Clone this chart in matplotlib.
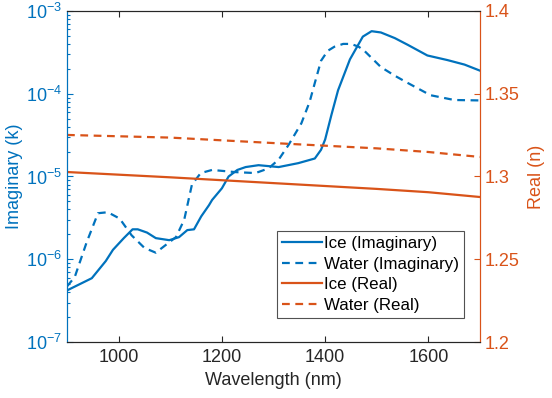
import matplotlib
matplotlib.use('Agg')
import matplotlib.pyplot as plt

BLUE = '#0072BD'
ORANGE = '#D95319'
DARK = '#262626'

plt.rcParams['font.family'] = ['Liberation Sans', 'DejaVu Sans']
plt.rcParams['mathtext.fontset'] = 'custom'
plt.rcParams['mathtext.rm'] = 'Liberation Sans'
plt.rcParams['mathtext.it'] = 'Liberation Sans'

# imaginary part (k)
ice_k_wl = [900, 948, 975, 989, 1010, 1027, 1037, 1055, 1072, 1098, 1117, 1133, 1146,
            1160, 1175, 1181, 1200, 1213, 1230, 1246, 1271, 1310, 1348, 1380, 1392,
            1400, 1412, 1425, 1448, 1473, 1490, 1508, 1535, 1560, 1598, 1637, 1670, 1700]
ice_k = [4.2e-7, 5.9e-7, 9.5e-7, 1.3e-6, 1.8e-6, 2.3e-6, 2.3e-6, 2.1e-6, 1.8e-6, 1.7e-6,
         1.85e-6, 2.25e-6, 2.3e-6, 3.3e-6, 4.5e-6, 5.2e-6, 7.2e-6, 1.0e-5, 1.2e-5, 1.3e-5,
         1.37e-5, 1.3e-5, 1.45e-5, 1.65e-5, 2.1e-5, 2.8e-5, 5.5e-5, 1.1e-4, 2.6e-4, 4.9e-4,
         5.7e-4, 5.5e-4, 4.7e-4, 3.9e-4, 2.9e-4, 2.55e-4, 2.25e-4, 1.9e-4]

water_k_wl = [900, 915, 938, 960, 979, 1002, 1025, 1050, 1072, 1092, 1111, 1127, 1142,
              1159, 1181, 1226, 1265, 1290, 1310, 1329, 1354, 1370, 1380, 1392, 1405,
              1418, 1435, 1450, 1465, 1476, 1508, 1535, 1560, 1604, 1650, 1700]
water_k = [4.7e-7, 6.1e-7, 1.6e-6, 3.6e-6, 3.7e-6, 3.1e-6, 1.95e-6, 1.37e-6, 1.2e-6, 1.5e-6,
           1.85e-6, 3.0e-6, 8.0e-6, 1.1e-5, 1.2e-5, 1.13e-5, 1.1e-5, 1.25e-5, 1.6e-5, 2.4e-5,
           4.4e-5, 8.0e-5, 1.35e-4, 2.5e-4, 3.3e-4, 3.7e-4, 4.0e-4, 4.0e-4, 3.7e-4, 3.3e-4,
           2.1e-4, 1.65e-4, 1.35e-4, 9.6e-5, 8.4e-5, 8.3e-5]

# real part (n)
real_wl = [900, 1100, 1300, 1500, 1600, 1700]
ice_n = [1.3027, 1.2995, 1.2960, 1.2925, 1.2905, 1.2876]
water_n = [1.3251, 1.3235, 1.3202, 1.3170, 1.3148, 1.3118]

fig = plt.figure(figsize=(5.52, 3.98), dpi=100)
ax1 = fig.add_axes([0.1214, 0.1407, 0.7482, 0.8317])
ax2 = ax1.twinx()

l1, = ax1.plot(ice_k_wl, ice_k, color=BLUE, lw=1.6, label='Ice (Imaginary)')
l2, = ax1.plot(water_k_wl, water_k, color=BLUE, lw=1.6, ls=(0, (3.5, 2.5)),
               label='Water (Imaginary)')
l3, = ax2.plot(real_wl, ice_n, color=ORANGE, lw=1.6, label='Ice (Real)')
l4, = ax2.plot(real_wl, water_n, color=ORANGE, lw=1.6, ls=(0, (3.5, 2.5)),
               label='Water (Real)')

ax1.set_yscale('log')
ax1.set_ylim(1e-7, 1e-3)
ax1.set_xlim(900, 1700)
ax2.set_ylim(1.2, 1.4)
ax2.set_yticks([1.2, 1.25, 1.3, 1.35, 1.4])
ax2.set_yticklabels(['1.2', '1.25', '1.3', '1.35', '1.4'])
ax1.set_xticks([1000, 1200, 1400, 1600])

fs = 13
ax1.tick_params(axis='x', direction='in', top=True, length=4, width=0.8,
                colors=DARK, labelsize=fs, pad=5)
ax1.tick_params(axis='y', which='both', direction='in', colors=BLUE, labelsize=fs, width=0.8)
ax1.tick_params(axis='y', which='major', length=4)
ax1.tick_params(axis='y', which='minor', length=2)
ax2.tick_params(axis='y', direction='in', colors=ORANGE, labelsize=fs, length=4, width=0.8)

ax1.set_xlabel('Wavelength (nm)', fontsize=fs, color=DARK)
ax1.set_ylabel('Imaginary (k)', fontsize=fs, color=BLUE, labelpad=2)
ax2.set_ylabel('Real (n)', fontsize=fs, color=ORANGE, labelpad=6)

for ax in (ax1, ax2):
    ax.spines['top'].set_color(DARK)
    ax.spines['bottom'].set_color(DARK)
    ax.spines['left'].set_color(BLUE)
    ax.spines['right'].set_color(ORANGE)
    for s in ax.spines.values():
        s.set_linewidth(0.8)

leg = ax2.legend(handles=[l1, l2, l3, l4], loc='lower right',
                 bbox_to_anchor=(0.961, 0.0725), fontsize=12.2, frameon=True,
                 fancybox=False, edgecolor=DARK, handlelength=2.35,
                 handletextpad=0.1, borderpad=0.3, labelspacing=0.33,
                 borderaxespad=0)
leg.get_frame().set_linewidth(0.8)

fig.savefig('out.png', dpi=100)
